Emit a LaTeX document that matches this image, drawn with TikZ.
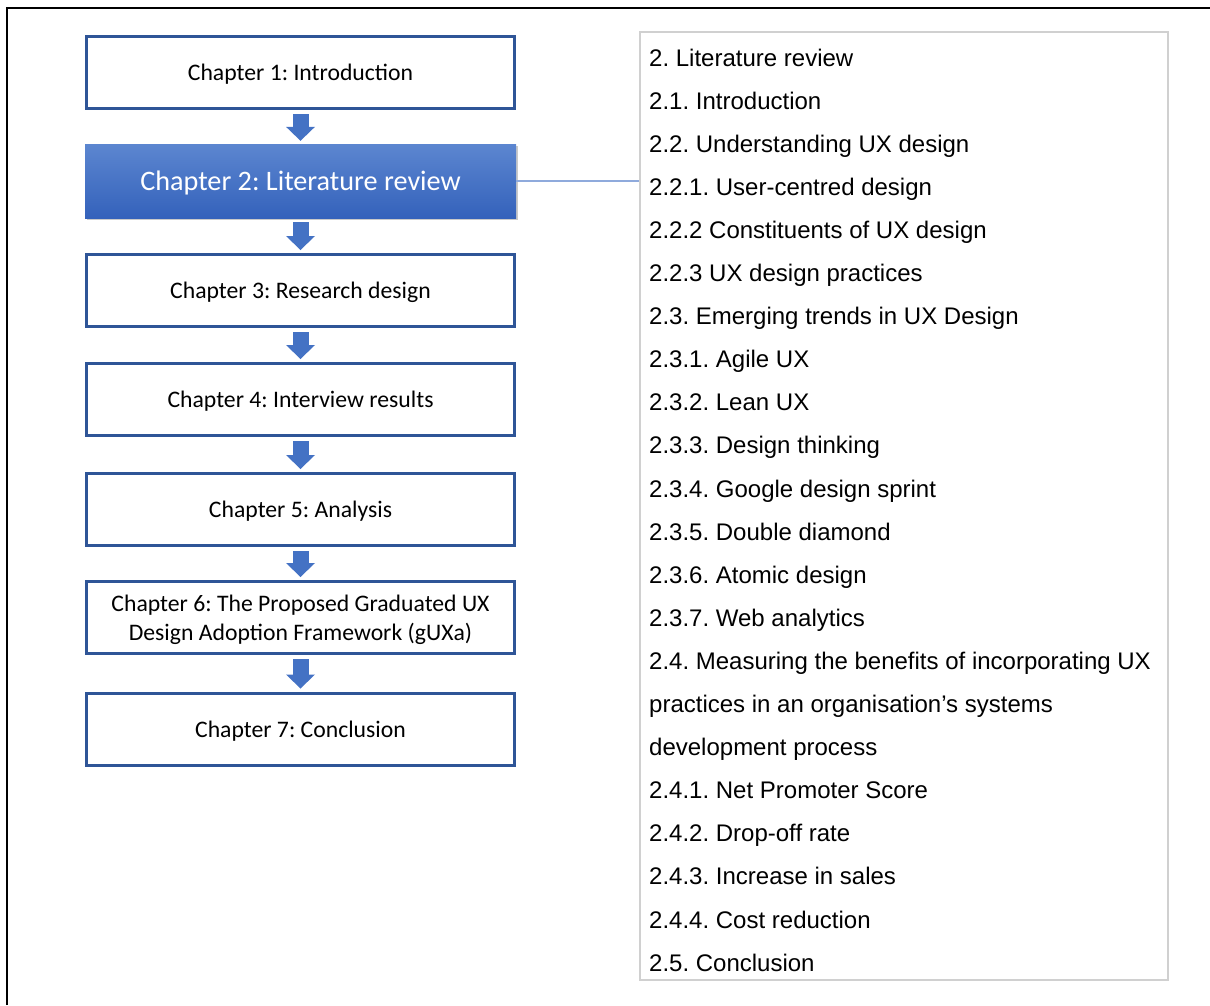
\documentclass[tikz,border=0pt]{standalone}
\usepackage{fontspec}
\setmainfont{Carlito}
\newfontfamily\listfont{Liberation Sans}
\usepackage{tikz}
\usetikzlibrary{arrows.meta, shadows}
\definecolor{boxblue}{RGB}{47,85,151}
\definecolor{arrowblue}{RGB}{68,114,196}
\definecolor{topblue}{RGB}{92,134,208}
\definecolor{botblue}{RGB}{52,98,187}
\definecolor{linkblue}{RGB}{143,170,220}
\definecolor{listgray}{RGB}{208,208,208}
\tikzstyle{chapter} = [rectangle, draw=boxblue, line width=3pt, fill=white, minimum width=428pt, minimum height=72pt, align=center, text depth=0pt, font=\fontsize{23.7}{29}\selectfont]
\tikzstyle{current} = [rectangle, minimum width=431pt, minimum height=74pt, top color=topblue, bottom color=botblue, text=white, text depth=0pt, font=\fontsize{28.2}{32}\selectfont, drop shadow={shadow xshift=2pt, shadow yshift=-2pt, opacity=0.35, fill=black!60}]
\tikzstyle{down} = [line width=16pt, draw=arrowblue, -{Triangle[width=29pt, length=14pt, line width=0pt, fill=arrowblue]}]
\tikzstyle{link} = [line width=1.2pt, draw=linkblue]
\tikzstyle{toc} = [rectangle, draw=listgray, line width=1.5pt, minimum width=528pt, minimum height=948pt]
\tikzstyle{entry} = [anchor=base west, inner sep=0pt, font=\listfont\fontsize{24}{28}\selectfont]

\begin{document}
\frenchspacing
\begin{tikzpicture}[x=1pt, y=1pt]
    \useasboundingbox (0,0) rectangle (1210,-1005);
    \draw[line width=2pt] (7,-1005) -- (7,-8) -- (1210,-8);
    % chapter flow
    \foreach \n/\y/\t in {1/72.5/Chapter 1: Introduction, 3/290.5/Chapter 3: Research design, 4/399.5/Chapter 4: Interview results, 5/509.5/Chapter 5: Analysis, 6/617.5/{Chapter 6: The Proposed Graduated UX\\Design Adoption Framework (gUXa)}, 7/729/Chapter 7: Conclusion}
        \node[chapter] (c\n) at (300.5,-\y) {\t};
    \node[current] (c2) at (300.5,-181) {Chapter 2: Literature review};
    \foreach \a/\b in {1/2,2/3,3/4,4/5,5/6,6/7}
        \draw[down] ([yshift=-4pt]c\a.south) -- ([yshift=3pt]c\b.north);
    % contents of chapter 2
    \node[toc] (toc) at (904,-506) {};
    \draw[link] (c2.east) -- (c2.east -| toc.west);
    \foreach \t [count=\i from 0] in {2. Literature review, 2.1. Introduction, 2.2. Understanding UX design, 2.2.1. User-centred design, 2.2.2 Constituents of UX design, 2.2.3 UX design practices, 2.3. Emerging trends in UX Design, 2.3.1. Agile UX, 2.3.2. Lean UX, 2.3.3. Design thinking, 2.3.4. Google design sprint, 2.3.5. Double diamond, 2.3.6. Atomic design, 2.3.7. Web analytics, 2.4. Measuring the benefits of incorporating UX, practices in an organisation’s systems, development process, 2.4.1. Net Promoter Score, 2.4.2. Drop-off rate, 2.4.3. Increase in sales, 2.4.4. Cost reduction, 2.5. Conclusion}
        \node[entry] (e\i) at (649,-66-43.1*\i) {\t};
\end{tikzpicture}
\end{document}
